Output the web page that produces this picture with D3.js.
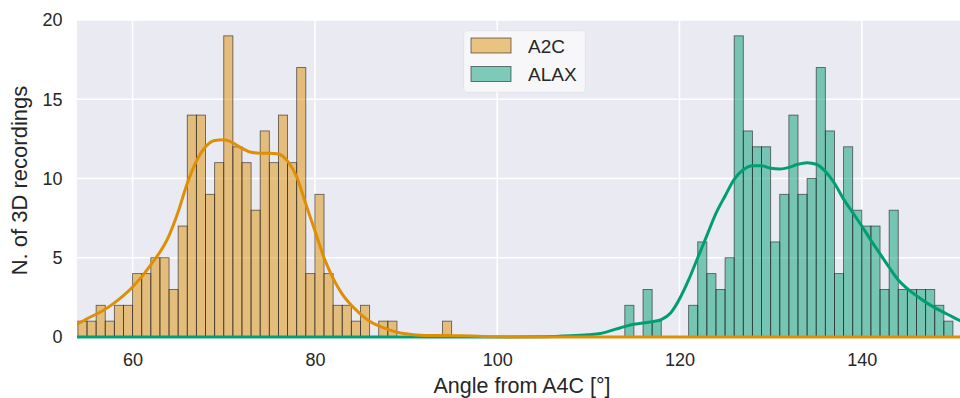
<!DOCTYPE html>
<html>
<head>
<meta charset="utf-8">
<script src="https://cdn.jsdelivr.net/npm/d3@7"></script>
<style>
  body { margin: 0; background: #fff; }
  svg { display: block; font-family: "Liberation Sans", Arial, sans-serif; }
</style>
</head>
<body>
<div id="chart"></div>
<script>
// histogram bins are 1 degree wide, value = left edge of bin
const a2cBins = [54, 55, 56, 57, 58, 59, 60, 61, 62, 63, 64, 65, 66, 67, 68, 69, 70, 71, 72, 73, 74,
  75, 76, 77, 78, 79, 80, 81, 82, 83, 84, 85, 87, 88, 94];
const a2cCounts = [1, 1, 2, 1, 2, 2, 4, 4, 5, 5, 3, 7, 14, 14, 9, 11, 19, 12, 11, 8, 13,
  11, 14, 11, 17, 4, 9, 4, 2, 2, 1, 2, 1, 1, 1];

const alaxBins = [114, 116, 117, 121, 122, 123, 124, 125, 126, 127, 128, 129, 130, 131, 132, 133, 134,
  135, 136, 137, 138, 139, 140, 141, 142, 143, 144, 145, 146, 147, 148, 149];
const alaxCounts = [2, 3, 1, 2, 6, 4, 3, 5, 19, 13, 12, 12, 6, 9, 14, 9, 10,
  17, 13, 4, 12, 8, 7, 7, 3, 8, 3, 3, 3, 3, 2, 1];

// kde curves
const a2cKdeX = [53.9, 55, 57, 58, 60, 62, 64, 65, 66, 67, 68, 69, 70, 71, 72, 73, 74, 75, 76, 77, 78,
  79, 80, 81, 82, 83, 84, 85, 86, 87, 88, 89, 90, 92, 94, 96, 98, 100, 104, 151.5];
const a2cKdeY = [0.8, 1.15, 1.75, 2.15, 3.15, 4.55, 6.4, 7.9, 9.7, 11.1, 12.0, 12.4, 12.45, 12.25, 11.9,
  11.65, 11.6, 11.6, 11.55, 11.1, 10.1, 8.4, 6.7, 5.0, 3.7, 2.7, 2.0, 1.45, 1.0, 0.7, 0.48, 0.3, 0.2,
  0.1, 0.1, 0.08, 0.04, 0.01, 0, 0];

const alaxKdeX = [53.9, 100, 105, 108, 110, 111.3, 113, 115, 117, 118, 119, 120, 121, 122, 123, 124, 125,
  126, 127, 128, 129, 130, 131, 132, 133, 134, 135, 136, 137, 138, 139, 140, 141, 142, 143, 144, 145,
  146, 147, 148, 149, 150, 151.5];
const alaxKdeY = [0, 0, 0.02, 0.08, 0.15, 0.22, 0.5, 0.8, 0.97, 1.1, 1.5, 2.4, 3.6, 5.0, 6.4, 7.8, 8.9,
  9.95, 10.55, 10.8, 10.8, 10.65, 10.6, 10.7, 10.9, 11.0, 10.9, 10.45, 9.7, 8.7, 7.85, 7.0, 6.1, 5.25,
  4.4, 3.6, 3.05, 2.6, 2.2, 1.85, 1.55, 1.25, 0.85];

const xTicks = [60, 80, 100, 120, 140];
const yTicks = [0, 5, 10, 15, 20];
const seriesNames = ['A2C', 'ALAX'];

const width = 960, height = 398;
// plot area runs a little past the right edge of the picture
const margin = { top: 20, right: -7, bottom: 61, left: 77 };
const xMax = 53.9 + (width - margin.right - margin.left) / 9.115;

const svg = d3.select('#chart').append('svg')
  .attr('width', width)
  .attr('height', height);

const x = d3.scaleLinear().domain([53.9, xMax]).range([margin.left, width - margin.right]);
const y = d3.scaleLinear().domain([0, 20]).range([height - margin.bottom, margin.top]);

// background
svg.append('rect')
  .attr('x', margin.left).attr('y', margin.top)
  .attr('width', width - margin.right - margin.left)
  .attr('height', height - margin.bottom - margin.top)
  .attr('fill', '#eaeaf2');

// grid
svg.append('g')
  .selectAll('line')
  .data(xTicks)
  .join('line')
  .attr('x1', d => x(d)).attr('x2', d => x(d))
  .attr('y1', margin.top).attr('y2', height - margin.bottom)
  .attr('stroke', '#fff').attr('stroke-width', 1.5);

svg.append('g')
  .selectAll('line')
  .data(yTicks)
  .join('line')
  .attr('x1', margin.left).attr('x2', width - margin.right)
  .attr('y1', d => y(d)).attr('y2', d => y(d))
  .attr('stroke', '#fff').attr('stroke-width', 1.5);

const colors = ['#de8f05', '#029e73'];
const fills = ['rgba(222,143,5,0.5)', 'rgba(2,158,115,0.5)'];

function drawBars(bins, counts, i) {
  svg.append('g')
    .selectAll('rect')
    .data(bins.map((b, k) => ({ b, c: counts[k] })))
    .join('rect')
    .attr('x', d => x(d.b))
    .attr('y', d => y(d.c))
    .attr('width', d => x(d.b + 1) - x(d.b))
    .attr('height', d => y(0) - y(d.c))
    .attr('fill', fills[i])
    .attr('stroke', 'rgba(30,30,30,0.65)')
    .attr('stroke-width', 0.9);
}
drawBars(a2cBins, a2cCounts, 0);
drawBars(alaxBins, alaxCounts, 1);

const line = d3.line()
  .x(d => x(d[0]))
  .y(d => y(d[1]))
  .curve(d3.curveMonotoneX);

svg.append('clipPath').attr('id', 'plotclip')
  .append('rect')
  .attr('x', margin.left).attr('y', margin.top)
  .attr('width', width - margin.right - margin.left)
  .attr('height', height - margin.bottom - margin.top + 3);

[[alaxKdeX, alaxKdeY, 1], [a2cKdeX, a2cKdeY, 0]].forEach(([xs, ys, i]) => {
  svg.append('path')
    .attr('clip-path', 'url(#plotclip)')
    .attr('d', line(xs.map((v, k) => [v, ys[k]])))
    .attr('fill', 'none')
    .attr('stroke', colors[i])
    .attr('stroke-width', 3)
    .attr('stroke-linecap', 'round');
});

// axes (text only, seaborn darkgrid style)
const xAxis = svg.append('g')
  .attr('transform', `translate(0,${height - margin.bottom})`)
  .call(d3.axisBottom(x).tickValues(xTicks).tickSize(0).tickPadding(16));
const yAxis = svg.append('g')
  .attr('transform', `translate(${margin.left},0)`)
  .call(d3.axisLeft(y).tickValues(yTicks).tickSize(0).tickPadding(14.5));
[xAxis, yAxis].forEach(g => {
  g.select('.domain').remove();
  g.selectAll('text')
    .attr('fill', '#262626')
    .style('font-size', '18px')
    .style('font-family', '"Liberation Sans", Arial, sans-serif');
});

svg.append('text')
  .attr('x', (margin.left + width - margin.right) / 2)
  .attr('y', 392.5)
  .attr('text-anchor', 'middle')
  .attr('fill', '#262626')
  .style('font-size', '21.5px')
  .text('Angle from A4C [°]');

svg.append('text')
  .attr('transform', `translate(27,${(margin.top + height - margin.bottom) / 2 + 2}) rotate(-90)`)
  .attr('text-anchor', 'middle')
  .attr('fill', '#262626')
  .style('font-size', '22px')
  .text('N. of 3D recordings');

// legend
const legend = svg.append('g').attr('transform', 'translate(464,31)');
legend.append('rect')
  .attr('width', 121).attr('height', 61)
  .attr('rx', 3)
  .attr('fill', 'rgba(234,234,242,0.8)')
  .attr('stroke', '#dcdce6')
  .attr('stroke-width', 0.8);
legend.append('rect')
  .attr('width', 121).attr('height', 61)
  .attr('rx', 3)
  .attr('fill', 'rgba(255,255,255,0.6)');
seriesNames.forEach((name, i) => {
  const g = legend.append('g').attr('transform', `translate(7,${7 + i * 28.5})`);
  g.append('rect')
    .attr('width', 40).attr('height', 15)
    .attr('fill', fills[i])
    .attr('stroke', 'rgba(30,30,30,0.65)')
    .attr('stroke-width', 0.9);
  g.append('text')
    .attr('x', 57).attr('y', 14.5)
    .attr('fill', '#262626')
    .style('font-size', '19px')
    .text(name);
});
</script>
</body>
</html>
